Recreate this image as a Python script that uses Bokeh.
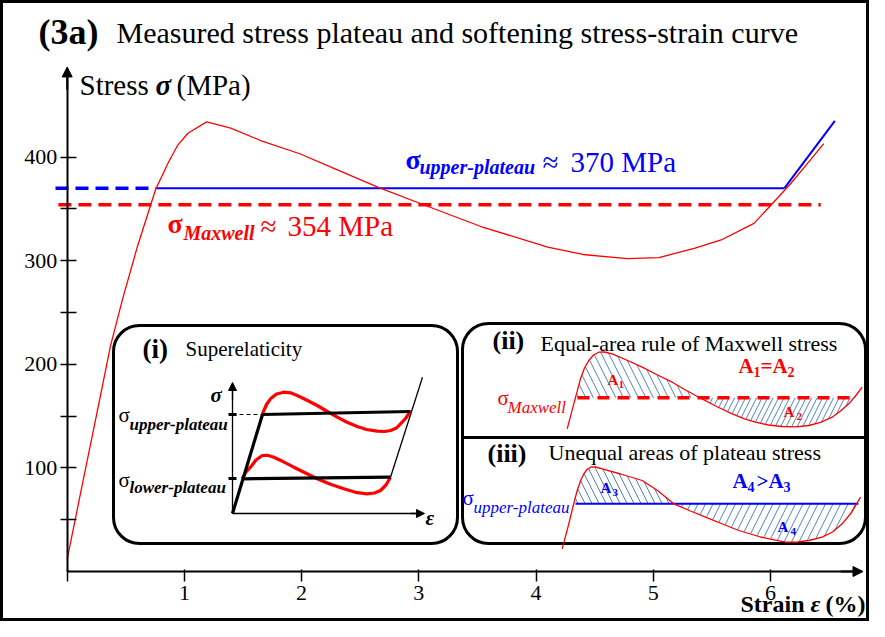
import numpy as np
from bokeh.plotting import figure
from bokeh.models import Range1d, LinearAxis, FixedTicker, Arrow, NormalHead
from bokeh.core.properties import value
from bokeh.embed import file_html
from bokeh.resources import INLINE

SERIF = "Liberation Serif"
RED = "#ff0000"
BLUE = "#0000ff"
HATCH = "#4f81bd"

# ---------------- main data (strain %, stress MPa) ----------------
strain = [0.0, 0.12, 0.25, 0.37, 0.47, 0.60, 0.71, 0.755, 0.86, 0.94, 1.03, 1.19,
          1.395, 1.65, 1.99, 2.30, 2.65, 3.04, 3.53, 4.10, 4.40, 4.78, 5.05, 5.35,
          5.58, 5.86, 6.00, 6.17, 6.31, 6.455]
stress = [12, 79, 151, 218, 262, 314, 353, 369, 394, 411, 423, 434,
          428, 416, 403, 388, 371, 354, 333, 313, 306, 302, 303, 312,
          320, 336, 353, 374, 393, 413]
upper_plateau = 370
maxwell_stress = 354
blue_dash_x = [-0.10, 0.755]
blue_solid_x = [0.755, 6.12]
blue_rise_x = [6.12, 6.55]
blue_rise_y = [370, 435]
red_dash_x = [-0.075, 6.43]

x_ticks = [0, 1, 2, 3, 4, 5, 6]
x_tick_labels = {0: "", 1: "1", 2: "2", 3: "3", 4: "4", 5: "5", 6: "6"}
y_ticks = [100, 200, 300, 400]
y_tick_labels = {100: "100", 200: "200", 300: "300", 400: "400"}
y_minor_ticks = [50, 150, 250, 350]

# ---------------- schematic inset shapes (pixel units) ----------------
# inset (i)
i_up_x = [261.7, 266, 270, 276, 283.3, 290, 296.7, 306, 316.7, 326, 336.7, 346, 356.7, 366, 376.7, 384, 390, 396, 400, 405, 410]
i_up_y = [414, 404, 398.3, 393.5, 391.7, 392.3, 395, 399.5, 405, 410.5, 416.7, 421.5, 426, 429, 430.7, 431, 430, 427.5, 423.3, 418, 410.7]
i_lo_x = [241.7, 245.5, 250, 255.5, 261.7, 267, 273.3, 283, 293.3, 305, 316.7, 330, 343.3, 355, 366.7, 374, 380, 385.5, 390]
i_lo_y = [478.3, 471.5, 466.7, 459.5, 455, 454.8, 456.7, 461.3, 466.7, 472.5, 478.3, 483.8, 488.3, 491.8, 493.3, 492.5, 490, 484.5, 476.7]
# inset (ii)
ii_x = [566.7, 573.3, 580, 584, 588.3, 593, 598.3, 604, 611.7, 626, 641.7, 656, 671.7, 685, 698.3, 715, 731.7, 744, 755, 768, 781.7, 795, 808.3, 820, 831.7, 840, 848.3, 855, 861.7]
ii_y = [428.3, 403.3, 378.3, 367.5, 360, 354.5, 351.7, 351.5, 353.3, 359.5, 366.7, 374, 381.7, 389.5, 396.7, 405.5, 413.3, 418.3, 421.7, 424.5, 426, 426.3, 425, 421.8, 416.7, 410.5, 403.3, 395.5, 386.7]
ii_level = 397.3
# inset (iii)
iii_x = [561.7, 568.3, 572.5, 576.7, 580, 583.3, 586.5, 590, 595, 601.7, 620, 641.7, 657, 673.3, 690, 705, 722, 738.3, 760, 785, 797, 808.3, 821.7, 832, 841.7, 851, 860]
iii_y = [548.3, 523.3, 506, 490, 480.5, 473.3, 469, 466.7, 466.5, 468.3, 473.5, 480, 490, 503.3, 510.5, 516.7, 523.5, 530, 536.5, 541.7, 541.5, 540, 536.7, 531.5, 523.3, 512, 496.7]
iii_level = 503.3

# ---------------- figure ----------------
W, H = 869, 621
PX0, PXU = 66.7, 117.2     # pixel x of strain 0, pixels per 1 % strain
PY0, PYU = 571.0, 1.036    # pixel y of stress 0, pixels per 1 MPa

p = figure(width=W, height=H,
           x_range=Range1d((0 - PX0) / PXU, (W - PX0) / PXU),
           y_range=Range1d((PY0 - H) / PYU, PY0 / PYU),
           x_axis_type=None, y_axis_type=None, tools="",
           toolbar_location=None, output_backend="svg", min_border=0)
p.title.visible = False
p.background_fill_color = "white"
p.border_fill_color = "white"
p.outline_line_color = "black"
p.outline_line_width = 5
p.extra_x_ranges = {"px": Range1d(0, W)}
p.extra_y_ranges = {"px": Range1d(H, 0)}
PX = dict(x_range_name="px", y_range_name="px")

# axes
xax = LinearAxis(fixed_location=0, ticker=FixedTicker(ticks=x_ticks, minor_ticks=[]),
                 bounds=(0, 6.72))
xax.major_label_overrides = x_tick_labels
yax = LinearAxis(fixed_location=0, ticker=FixedTicker(ticks=y_ticks, minor_ticks=y_minor_ticks),
                 bounds=(0, 478))
yax.major_label_overrides = y_tick_labels
for ax in (xax, yax):
    ax.axis_line_width = 2
    ax.axis_line_color = "black"
    ax.major_tick_line_width = 1.5
    ax.minor_tick_line_width = 1.5
    ax.major_label_text_font = SERIF
    ax.major_label_text_font_size = "22px"
    ax.major_label_text_color = "black"
xax.major_tick_in, xax.major_tick_out = 2, 10
xax.major_label_standoff = 4
yax.major_tick_in, yax.major_tick_out = 9, 7
yax.minor_tick_in, yax.minor_tick_out = 9, 7
yax.major_label_standoff = 3
p.add_layout(xax, "below")
p.add_layout(yax, "left")
p.add_layout(Arrow(end=NormalHead(size=10, fill_color="black", line_color="black"),
                   x_start=0, y_start=465, x_end=0, y_end=487, line_width=2))
p.add_layout(Arrow(end=NormalHead(size=10, fill_color="black", line_color="black"),
                   x_start=6.6, y_start=0, x_end=6.79, y_end=0, line_width=2))

# main lines
p.line(blue_dash_x, [upper_plateau] * 2, line_color=BLUE, line_width=3.5, line_dash="13 7")
p.line(red_dash_x, [maxwell_stress] * 2, line_color=RED, line_width=3.5, line_dash="13 7")
p.line(blue_solid_x, [upper_plateau] * 2, line_color=BLUE, line_width=2)
p.line(blue_rise_x, blue_rise_y, line_color=BLUE, line_width=2)
p.line(strain, stress, line_color=RED, line_width=1.3)

# inset boxes
p.quad(left=[113], right=[457], top=[325], bottom=[543], border_radius=26,
       fill_color="white", line_color="black", line_width=3, **PX)
p.quad(left=[462], right=[865], top=[323], bottom=[543], border_radius=26,
       fill_color="white", line_color="black", line_width=3, **PX)
p.line([462, 865], [437, 437], line_color="black", line_width=3, **PX)

# inset (i) drawing
p.line([232, 232], [513, 390], line_color="black", line_width=1.3, **PX)
p.line([232, 418], [513, 513], line_color="black", line_width=1.3, **PX)
p.add_layout(Arrow(end=NormalHead(size=8, fill_color="black", line_color="black"),
                   x_start=232, y_start=400, x_end=232, y_end=382, line_width=1.3, **PX))
p.add_layout(Arrow(end=NormalHead(size=8, fill_color="black", line_color="black"),
                   x_start=410, y_start=513, x_end=424, y_end=513, line_width=1.3, **PX))
p.line([232, 262], [414, 414], line_color="black", line_width=1.2, line_dash="4 3", **PX)
p.line([228, 236], [414, 414], line_color="black", line_width=3, **PX)
p.line([228, 236], [478, 478], line_color="black", line_width=3, **PX)
p.line([390, 422], [476.7, 376.7], line_color="black", line_width=1.3, **PX)
p.line(i_up_x, i_up_y, line_color=RED, line_width=3.2, line_join="round", **PX)
p.line(i_lo_x, i_lo_y, line_color=RED, line_width=3.2, line_join="round", **PX)
p.line([232, 262], [513, 414], line_color="black", line_width=3.2, **PX)
p.line([262, 410], [414, 411], line_color="black", line_width=3.2, **PX)
p.line([241.7, 390], [478.3, 476.7], line_color="black", line_width=3.2, **PX)


def region(xs, ys, level, x_from, x_to):
    xs = np.asarray(xs); ys = np.asarray(ys)
    m = (xs > x_from) & (xs < x_to)
    px = [x_from] + list(xs[m]) + [x_to]
    py = [level] + list(ys[m]) + [level]
    return px, py


hatch_kw = dict(fill_color=None, line_color=None, hatch_color=HATCH, hatch_weight=1, **PX)
a1 = region(ii_x, ii_y, ii_level, 576, 698)
a2 = region(ii_x, ii_y, ii_level, 698, 853)
a3 = region(iii_x, iii_y, iii_level, 573, 673.3)
a4 = region(iii_x, iii_y, iii_level, 673.3, 856)
p.patch(a1[0], a1[1], hatch_pattern="\\", hatch_scale=15, **hatch_kw)
p.patch(a2[0], a2[1], hatch_pattern="/", hatch_scale=11, **hatch_kw)
p.patch(a3[0], a3[1], hatch_pattern="\\", hatch_scale=14, **hatch_kw)
p.patch(a4[0], a4[1], hatch_pattern="/", hatch_scale=15, **hatch_kw)

p.line([577, 855], [ii_level, ii_level], line_color=RED, line_width=3.5, line_dash="12 8", **PX)
p.line(ii_x, ii_y, line_color=RED, line_width=1.3, **PX)
p.line([575, 858], [iii_level, iii_level], line_color=BLUE, line_width=2, **PX)
p.line(iii_x, iii_y, line_color=RED, line_width=1.3, **PX)

# ---------------- texts (x left, baseline y) ----------------
texts = [
    (38, 45, "(3a)", 36, "bold", "black"),
    (116, 43, "Measured stress plateau and softening stress-strain curve", 30, "normal", "black"),
    (79, 95, "Stress", 29, "normal", "black"),
    (155, 95, "σ", 29, "bold italic", "black"),
    (176, 95, "(MPa)", 29, "normal", "black"),
    (405, 169, "σ", 28, "bold", BLUE),
    (419, 174, "upper-plateau", 20, "bold italic", BLUE),
    (542, 172, "≈", 29, "normal", BLUE),
    (570, 172, "370 MPa", 29, "normal", BLUE),
    (167, 233, "σ", 28, "bold", RED),
    (183, 240, "Maxwell", 20, "bold italic", RED),
    (260, 236, "≈", 29, "normal", RED),
    (287, 236, "354 MPa", 29, "normal", RED),
    (740, 612, "Strain", 24, "bold", "black"),
    (810, 612, "ε", 24, "bold italic", "black"),
    (825, 612, "(%)", 24, "bold", "black"),
    # inset (i)
    (142, 358, "(i)", 27, "bold", "black"),
    (185, 356, "Superelaticity", 21, "normal", "black"),
    (210, 402, "σ", 21, "bold italic", "black"),
    (425, 525, "ε", 21, "bold italic", "black"),
    (118, 422, "σ", 21, "normal", "black"),
    (129, 430, "upper-plateau", 17, "bold italic", "black"),
    (118, 487, "σ", 21, "normal", "black"),
    (129, 493, "lower-plateau", 17, "bold italic", "black"),
    # inset (ii)
    (492, 350, "(ii)", 26, "bold", "black"),
    (540, 351, "Equal-area rule of Maxwell stress", 22, "normal", "black"),
    (497, 405, "σ", 21, "normal", RED),
    (507, 413, "Maxwell", 17, "italic", RED),
    (607, 385, "A", 15, "bold", RED),
    (618, 388, "1", 11, "bold", RED),
    (783, 417, "A", 15, "bold", RED),
    (796, 420, "2", 11, "bold", RED),
    (738, 373, "A", 21, "bold", RED),
    (753, 377, "1", 14, "bold", RED),
    (760, 373, "=", 21, "bold", RED),
    (772, 373, "A", 21, "bold", RED),
    (787, 377, "2", 14, "bold", RED),
    # inset (iii)
    (487, 463, "(iii)", 26, "bold", "black"),
    (548, 460, "Unequal areas of plateau stress", 22, "normal", "black"),
    (462, 505, "σ", 21, "normal", BLUE),
    (473, 513, "upper-plateau", 17, "italic", BLUE),
    (600, 493, "A", 15, "bold", BLUE),
    (612, 496, "3", 11, "bold", BLUE),
    (777, 532, "A", 15, "bold", BLUE),
    (790, 535, "4", 11, "bold", BLUE),
    (732, 488, "A", 21, "bold", BLUE),
    (747, 492, "4", 14, "bold", BLUE),
    (756, 488, ">", 21, "bold", BLUE),
    (768, 488, "A", 21, "bold", BLUE),
    (783, 492, "3", 14, "bold", BLUE),
]
K = 0.37   # renderer places the alphabetic anchor this many ems low
for (tx, ty, s, size, style, color) in texts:
    p.text(x=[tx], y=[ty - K * size], text=[s], text_font=value(SERIF), text_font_size=f"{size}px",
           text_font_style=style, text_color=color, text_align="left",
           text_baseline="alphabetic", **PX)

open("out.html", "w").write(file_html(p, INLINE))
